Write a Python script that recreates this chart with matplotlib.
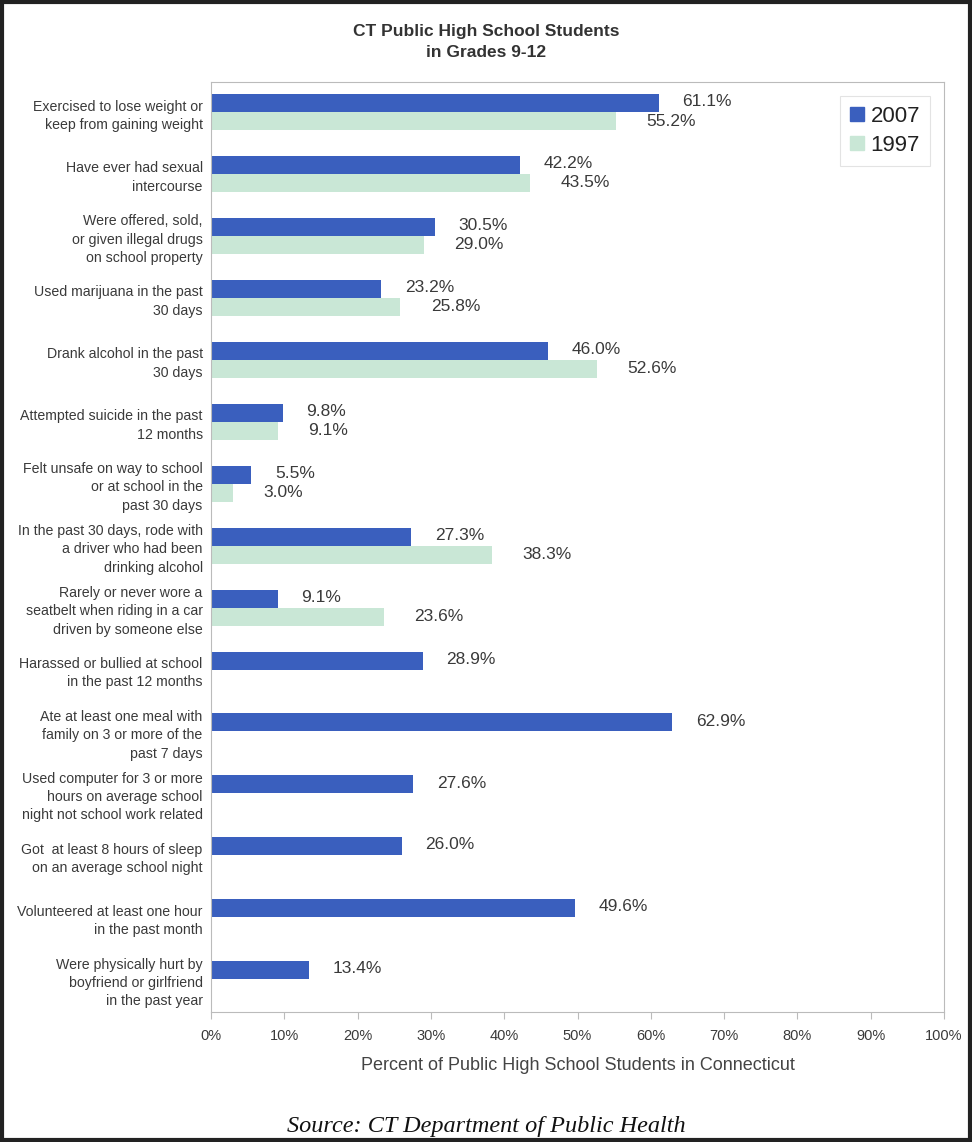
import numpy as np
import matplotlib.pyplot as plt
from matplotlib.patches import Rectangle, Patch

# data
categories = [
    "Exercised to lose weight or\nkeep from gaining weight",
    "Have ever had sexual\nintercourse",
    "Were offered, sold,\nor given illegal drugs\non school property",
    "Used marijuana in the past\n30 days",
    "Drank alcohol in the past\n30 days",
    "Attempted suicide in the past\n12 months",
    "Felt unsafe on way to school\nor at school in the\npast 30 days",
    "In the past 30 days, rode with\na driver who had been\ndrinking alcohol",
    "Rarely or never wore a\nseatbelt when riding in a car\ndriven by someone else",
    "Harassed or bullied at school\nin the past 12 months",
    "Ate at least one meal with\nfamily on 3 or more of the\npast 7 days",
    "Used computer for 3 or more\nhours on average school\nnight not school work related",
    "Got  at least 8 hours of sleep\non an average school night",
    "Volunteered at least one hour\nin the past month",
    "Were physically hurt by\nboyfriend or girlfriend\nin the past year",
]
vals_2007 = [61.1, 42.2, 30.5, 23.2, 46.0, 9.8, 5.5, 27.3, 9.1, 28.9, 62.9, 27.6, 26.0, 49.6, 13.4]
vals_1997 = [55.2, 43.5, 29.0, 25.8, 52.6, 9.1, 3.0, 38.3, 23.6]
xticks = [0, 10, 20, 30, 40, 50, 60, 70, 80, 90, 100]

c2007 = "#3a5fbe"
c1997 = "#c9e7d6"
txt = "#3a3a3a"

plt.rcParams['font.family'] = ['Liberation Sans', 'DejaVu Sans']

fig = plt.figure(figsize=(9.72, 11.42), dpi=100)
ax = fig.add_axes([0.2171, 0.1138, 0.7541, 0.8144])

y = np.arange(len(categories))
h = 0.29
ax.barh(y - h / 2, vals_2007, height=h, color=c2007, label="2007")
y97 = y[:len(vals_1997)]
ax.barh(y97 + h / 2, vals_1997, height=h, color=c1997, label="1997")

for yi, v in zip(y, vals_2007):
    ax.annotate(f"{v:.1f}%", (v, yi - h / 2), xytext=(17, 1), textcoords="offset points",
                va="center", ha="left", fontsize=12.5, color=txt)
for yi, v in zip(y97, vals_1997):
    ax.annotate(f"{v:.1f}%", (v, yi + h / 2), xytext=(22, 0), textcoords="offset points",
                va="center", ha="left", fontsize=12.5, color=txt)

ax.set_xlim(0, 100)
ax.set_ylim(len(categories) - 1 + 0.53, -0.485)
ax.set_xticks(xticks)
ax.set_xticklabels([f"{t}%" for t in xticks], fontsize=10.5, color=txt)
ax.set_yticks(y)
ax.set_yticklabels(categories, fontsize=10.2, color=txt, linespacing=1.4)
ax.tick_params(axis="y", length=0, pad=6)
ax.tick_params(axis="x", length=5, color="#bbbbbb", pad=7)
for s in ax.spines.values():
    s.set_color("#bbbbbb")
ax.set_xlabel("Percent of Public High School Students in Connecticut", fontsize=13,
              color="#444444", labelpad=10)

handles = [Patch(color=c2007, label="2007"), Patch(color=c1997, label="1997")]
leg = ax.legend(handles=handles, loc="upper right", bbox_to_anchor=(0.996, 0.997),
                fontsize=16, frameon=True, fancybox=False, handlelength=0.6,
                handleheight=0.6, handletextpad=0.3, borderpad=0.45, labelspacing=0.35)
leg.get_frame().set_edgecolor("#dddddd")
leg.get_frame().set_linewidth(0.8)
for t in leg.get_texts():
    t.set_color("#222222")

fig.text(0.5, 0.979, "CT Public High School Students\nin Grades 9-12", ha="center",
         va="top", fontsize=12.5, fontweight="bold", color="#333333", linespacing=1.5)
fig.text(0.5, 0.014, "Source: CT Department of Public Health", ha="center",
         va="center", fontsize=17.5, style="italic", family=["Liberation Serif"], color="#111111")

fig.patches.append(Rectangle((0.002, 0.002), 0.996, 0.996, transform=fig.transFigure,
                             fill=False, edgecolor="#222222", linewidth=3))

fig.savefig("out.png", dpi=100)
